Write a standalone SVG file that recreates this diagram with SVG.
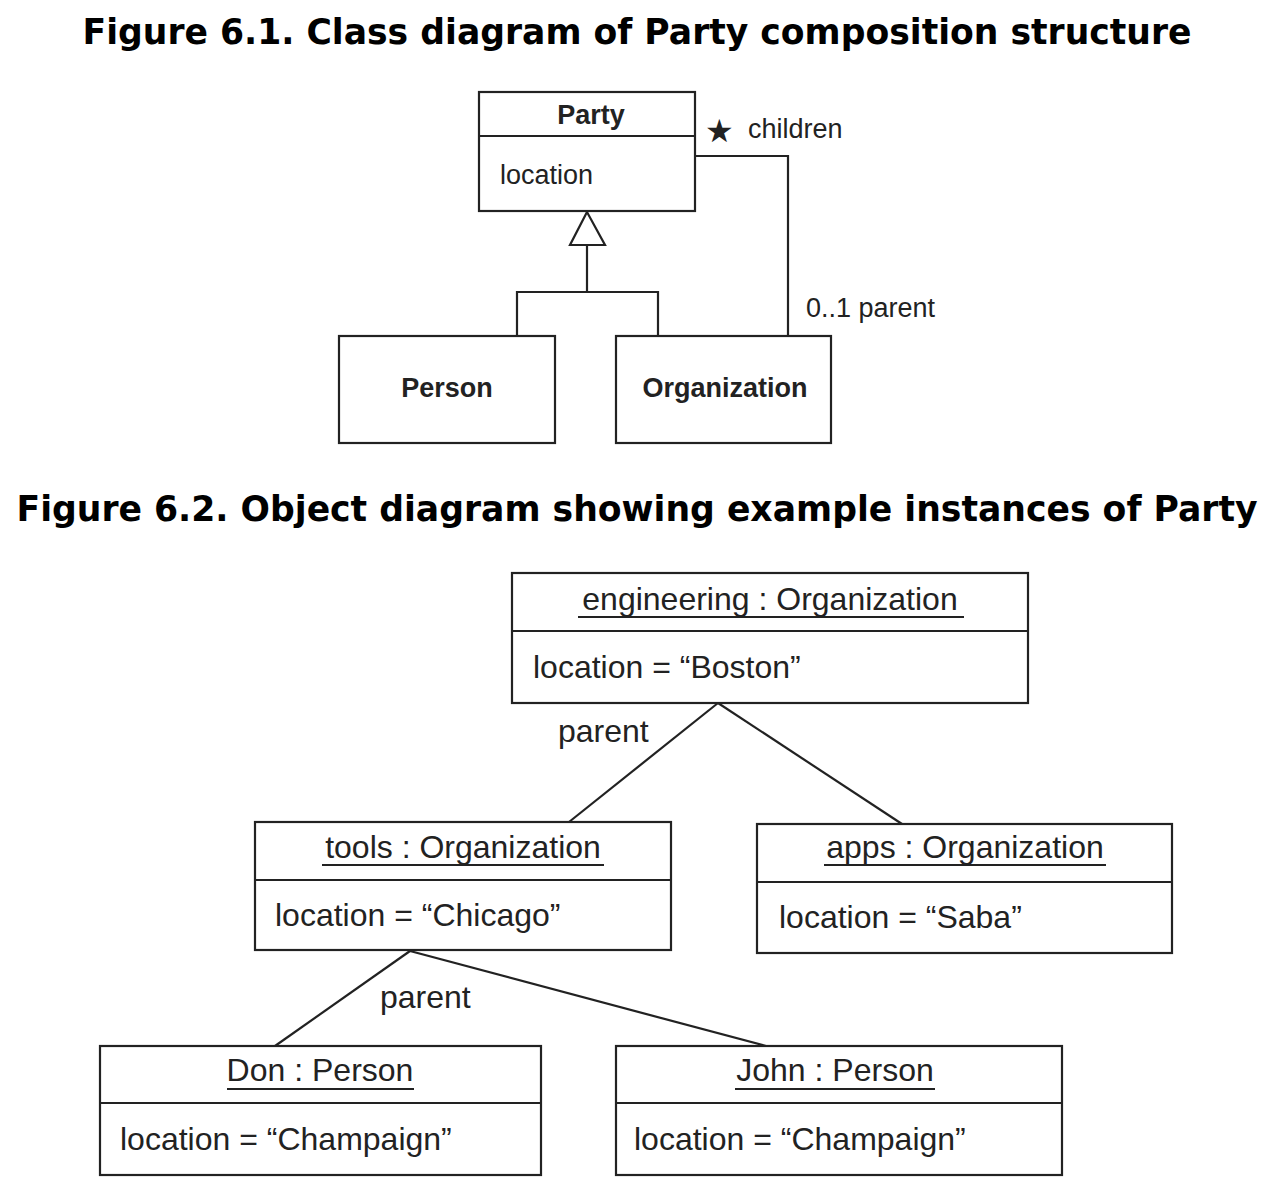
<svg xmlns="http://www.w3.org/2000/svg" width="1274" height="1200" viewBox="0 0 1274 1200">
<style>
.title{font-family:"DejaVu Sans",Verdana,sans-serif;font-weight:bold;font-size:35px;fill:#000}
.box{fill:#fff;stroke:#222;stroke-width:2.2}
.ln{fill:none;stroke:#222;stroke-width:2.2}
.cls{font-family:"Liberation Sans",Arial,sans-serif;font-size:27px;fill:#222}
.clsb{font-family:"Liberation Sans",Arial,sans-serif;font-size:27px;font-weight:bold;fill:#222}
.obj{font-family:"Liberation Sans",Arial,sans-serif;font-size:32px;fill:#222}
</style>
<rect width="1274" height="1200" fill="#fff"/>
<text class="title" x="637" y="44" text-anchor="middle" textLength="1109" lengthAdjust="spacingAndGlyphs">Figure 6.1. Class diagram of Party composition structure</text>
<text class="title" x="637" y="521" text-anchor="middle" textLength="1241" lengthAdjust="spacingAndGlyphs">Figure 6.2. Object diagram showing example instances of Party</text>

<g id="connectors">
  <polyline class="ln" points="587,245 587,292"/>
  <polyline class="ln" points="517,336 517,292 658,292 658,336"/>
  <polygon points="587,212 570,245 605,245" fill="#fff" stroke="#222" stroke-width="2.2"/>
  <polyline class="ln" points="695,156 788,156 788,336"/>
  <line class="ln" x1="718" y1="703" x2="569" y2="822"/>
  <line class="ln" x1="718" y1="703" x2="902" y2="824"/>
  <line class="ln" x1="410" y1="951" x2="275" y2="1046"/>
  <line class="ln" x1="410" y1="951" x2="766" y2="1046"/>
  <text class="cls" x="705" y="142" style="font-size:32px">★</text>
  <text class="cls" x="748" y="138">children</text>
  <text class="cls" x="806" y="317">0..1 parent</text>
  <text class="obj" x="558" y="742">parent</text>
  <text class="obj" x="380" y="1008">parent</text>
</g>

<g id="party">
  <rect class="box" x="479" y="92" width="216" height="119"/>
  <line class="ln" x1="479" y1="136" x2="695" y2="136"/>
  <text class="clsb" x="591" y="124" text-anchor="middle">Party</text>
  <text class="cls" x="500" y="184">location</text>
</g>
<g id="person">
  <rect class="box" x="339" y="336" width="216" height="107"/>
  <text class="clsb" x="447" y="397" text-anchor="middle">Person</text>
</g>
<g id="organization">
  <rect class="box" x="616" y="336" width="215" height="107"/>
  <text class="clsb" x="725" y="397" text-anchor="middle">Organization</text>
</g>

<g id="engineering">
  <rect class="box" x="512" y="573" width="516" height="130"/>
  <line class="ln" x1="512" y1="631" x2="1028" y2="631"/>
  <text class="obj" x="770" y="610" text-anchor="middle">engineering : Organization</text>
  <line class="ln" x1="578" y1="617" x2="964" y2="617"/>
  <text class="obj" x="533" y="678">location = “Boston”</text>
</g>
<g id="tools">
  <rect class="box" x="255" y="822" width="416" height="128"/>
  <line class="ln" x1="255" y1="880" x2="671" y2="880"/>
  <text class="obj" x="463" y="858" text-anchor="middle">tools : Organization</text>
  <line class="ln" x1="322" y1="865" x2="604" y2="865"/>
  <text class="obj" x="275" y="926">location = “Chicago”</text>
</g>
<g id="apps">
  <rect class="box" x="757" y="824" width="415" height="129"/>
  <line class="ln" x1="757" y1="882" x2="1172" y2="882"/>
  <text class="obj" x="965" y="858" text-anchor="middle">apps : Organization</text>
  <line class="ln" x1="824" y1="865" x2="1106" y2="865"/>
  <text class="obj" x="779" y="928">location = “Saba”</text>
</g>
<g id="don">
  <rect class="box" x="100" y="1046" width="441" height="129"/>
  <line class="ln" x1="100" y1="1103" x2="541" y2="1103"/>
  <text class="obj" x="320" y="1081" text-anchor="middle">Don : Person</text>
  <line class="ln" x1="227" y1="1089" x2="414" y2="1089"/>
  <text class="obj" x="120" y="1150">location = “Champaign”</text>
</g>
<g id="john">
  <rect class="box" x="616" y="1046" width="446" height="129"/>
  <line class="ln" x1="616" y1="1103" x2="1062" y2="1103"/>
  <text class="obj" x="835" y="1081" text-anchor="middle">John : Person</text>
  <line class="ln" x1="735" y1="1089" x2="935" y2="1089"/>
  <text class="obj" x="634" y="1150">location = “Champaign”</text>
</g>
</svg>
